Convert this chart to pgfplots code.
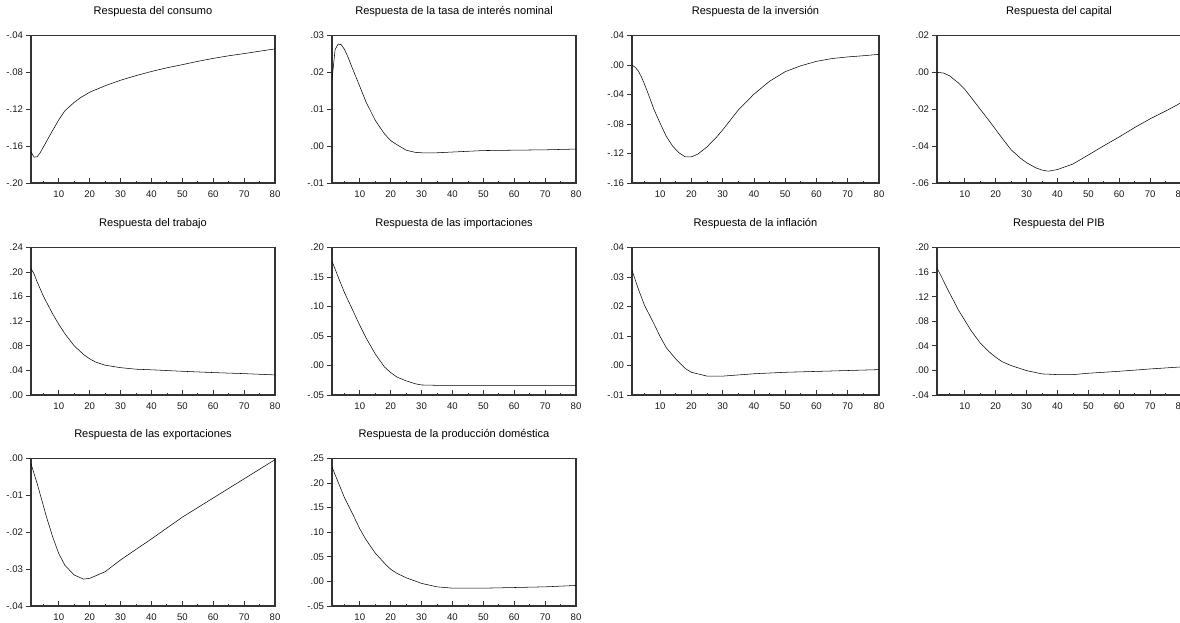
\documentclass[border=0pt]{standalone}
\usepackage{fontspec}
\setmainfont{Liberation Sans}
\usepackage{pgfplots}
\pgfplotsset{compat=1.18}

\pgfplotsset{
  irf/.style={
    scale only axis,
    width=183pt, height=110.6pt,
    xmin=1, xmax=80,
    xtick={10,20,30,40,50,60,70,80},
    xticklabels={10,20,30,40,50,60,70,80},
    minor xtick={5,15,25,35,45,55,65,75},
    xtick align=inside, ytick align=outside,
    xtick pos=lower, ytick pos=left,
    scaled y ticks=false,
    major tick length=3.5pt, minor tick length=1.6pt,
    tick style={black!80, line width=0.6pt},
    axis line style={black!80, line width=0.9pt},
    tick label style={font=\fontsize{7.2}{8}\selectfont, text=black!90},
    xticklabel style={yshift=-2.2pt},
    yticklabel style={xshift=1pt},
    title style={font=\fontsize{8.3}{10}\selectfont, at={(0.5,1)}, anchor=base, yshift=10pt},
    no markers,
    cycle list={{black, line width=0.6pt, smooth, tension=0.45}},
  },
}

\begin{document}
\begin{tikzpicture}
\path[use as bounding box, clip] (0,0) rectangle (885pt,466.5pt);

% ---- fila 1 ----
\begin{axis}[irf, at={(23.25pt,329.25pt)}, title={Respuesta del consumo},
  ymin=-0.20, ymax=-0.04, ytick={-0.20,-0.16,-0.12,-0.08,-0.04},
  yticklabels={-.20,-.16,-.12,-.08,-.04}]
\addplot coordinates {(1,-0.166)(2,-0.172)(3,-0.1715)(4,-0.167)(5,-0.161)(6,-0.155)(8,-0.143)(10,-0.1315)(12,-0.1215)(15,-0.1125)(17,-0.1075)(20,-0.1015)(25,-0.0945)(30,-0.0885)(35,-0.0835)(40,-0.079)(45,-0.075)(50,-0.0716)(55,-0.068)(60,-0.0648)(65,-0.062)(70,-0.0596)(75,-0.057)(80,-0.0545)};
\end{axis}

\begin{axis}[irf, at={(249pt,329.25pt)}, title={Respuesta de la tasa de interés nominal},
  ymin=-0.01, ymax=0.03, ytick={-0.01,0,0.01,0.02,0.03},
  yticklabels={-.01,.00,.01,.02,.03}]
\addplot coordinates {(1,0.018)(2,0.0262)(3,0.0277)(4,0.0275)(5,0.0263)(6,0.0245)(8,0.0203)(10,0.0162)(12,0.0120)(15,0.0070)(18,0.0033)(20,0.0015)(22,0.0004)(25,-0.0011)(28,-0.0017)(30,-0.0018)(35,-0.0018)(40,-0.0016)(50,-0.0012)(60,-0.0011)(70,-0.0010)(80,-0.0008)};
\end{axis}

\begin{axis}[irf, width=185.25pt, at={(474pt,329.25pt)}, title={Respuesta de la inversión},
  ymin=-0.16, ymax=0.04, ytick={-0.16,-0.12,-0.08,-0.04,0,0.04},
  yticklabels={-.16,-.12,-.08,-.04,.00,.04}]
\addplot coordinates {(1,0.000)(2,-0.003)(3,-0.008)(4,-0.016)(5,-0.026)(6,-0.037)(8,-0.060)(10,-0.079)(12,-0.097)(14,-0.110)(16,-0.119)(18,-0.1245)(20,-0.1245)(22,-0.121)(25,-0.111)(28,-0.098)(30,-0.088)(35,-0.061)(40,-0.0395)(45,-0.022)(50,-0.009)(55,-0.001)(60,0.0050)(65,0.0088)(70,0.011)(75,0.0126)(80,0.0145)};
\end{axis}

\begin{axis}[irf, at={(702.75pt,329.25pt)}, title={Respuesta del capital},
  ymin=-0.06, ymax=0.02, ytick={-0.06,-0.04,-0.02,0,0.02},
  yticklabels={-.06,-.04,-.02,.00,.02}]
\addplot coordinates {(1,0.000)(3,-0.0003)(5,-0.0018)(8,-0.0058)(10,-0.0092)(12,-0.0135)(15,-0.020)(18,-0.0265)(20,-0.031)(22,-0.0355)(25,-0.042)(28,-0.0465)(30,-0.049)(33,-0.0518)(35,-0.053)(37,-0.0536)(40,-0.0527)(45,-0.0497)(50,-0.0448)(55,-0.0398)(60,-0.035)(65,-0.0299)(70,-0.0252)(75,-0.021)(80,-0.0165)};
\end{axis}

% ---- fila 2 ----
\begin{axis}[irf, at={(23.25pt,170.25pt)}, title={Respuesta del trabajo},
  ymin=0, ymax=0.24, ytick={0,0.04,0.08,0.12,0.16,0.20,0.24},
  yticklabels={.00,.04,.08,.12,.16,.20,.24}]
\addplot coordinates {(1,0.2057)(2,0.197)(3,0.184)(5,0.161)(8,0.132)(10,0.115)(12,0.0995)(15,0.080)(18,0.066)(20,0.0588)(22,0.0535)(25,0.0485)(30,0.0445)(35,0.042)(40,0.041)(50,0.0386)(60,0.0365)(70,0.0348)(80,0.0327)};
\end{axis}

\begin{axis}[irf, at={(249pt,170.25pt)}, title={Respuesta de las importaciones},
  ymin=-0.05, ymax=0.20, ytick={-0.05,0,0.05,0.10,0.15,0.20},
  yticklabels={-.05,.00,.05,.10,.15,.20}]
\addplot coordinates {(1,0.177)(3,0.150)(5,0.124)(8,0.0905)(10,0.068)(12,0.047)(15,0.0195)(18,-0.0025)(20,-0.012)(22,-0.0195)(25,-0.026)(28,-0.031)(30,-0.033)(35,-0.0336)(40,-0.0336)(60,-0.0336)(80,-0.0336)};
\end{axis}

\begin{axis}[irf, width=185.25pt, at={(474pt,170.25pt)}, title={Respuesta de la inflación},
  ymin=-0.01, ymax=0.04, ytick={-0.01,0,0.01,0.02,0.03,0.04},
  yticklabels={-.01,.00,.01,.02,.03,.04}]
\addplot coordinates {(1,0.0323)(3,0.026)(5,0.0204)(8,0.0142)(10,0.0098)(12,0.006)(15,0.0022)(18,-0.0010)(20,-0.0023)(25,-0.0036)(30,-0.0036)(35,-0.0032)(40,-0.0028)(50,-0.0023)(60,-0.0020)(70,-0.0017)(80,-0.0014)};
\end{axis}

\begin{axis}[irf, at={(702.75pt,170.25pt)}, title={Respuesta del PIB},
  ymin=-0.04, ymax=0.20, ytick={-0.04,0,0.04,0.08,0.12,0.16,0.20},
  yticklabels={-.04,.00,.04,.08,.12,.16,.20}]
\addplot coordinates {(1,0.1668)(3,0.1467)(5,0.1265)(8,0.0977)(10,0.0814)(12,0.065)(15,0.0444)(18,0.0297)(20,0.0215)(22,0.0144)(25,0.0079)(30,-0.0003)(35,-0.0057)(40,-0.0068)(45,-0.0068)(50,-0.0046)(60,-0.0014)(70,0.0024)(80,0.0057)};
\end{axis}

% ---- fila 3 ----
\begin{axis}[irf, at={(23.25pt,12pt)}, title={Respuesta de las exportaciones},
  ymin=-0.04, ymax=0, ytick={-0.04,-0.03,-0.02,-0.01,0},
  yticklabels={-.04,-.03,-.02,-.01,.00}]
\addplot coordinates {(1,-0.0014)(3,-0.0068)(4,-0.0098)(6,-0.0158)(8,-0.0212)(10,-0.0258)(12,-0.029)(15,-0.0316)(18,-0.0327)(20,-0.0325)(25,-0.0307)(30,-0.0275)(40,-0.0218)(50,-0.0159)(60,-0.0107)(70,-0.0055)(80,-0.0003)};
\end{axis}

\begin{axis}[irf, at={(249pt,12pt)}, title={Respuesta de la producción doméstica},
  ymin=-0.05, ymax=0.25, ytick={-0.05,0,0.05,0.10,0.15,0.20,0.25},
  yticklabels={-.05,.00,.05,.10,.15,.20,.25}]
\addplot coordinates {(1,0.2327)(3,0.2018)(5,0.171)(8,0.133)(10,0.107)(12,0.085)(15,0.0577)(18,0.037)(20,0.0247)(22,0.0165)(25,0.0075)(30,-0.004)(35,-0.011)(40,-0.0137)(50,-0.0137)(60,-0.0124)(70,-0.011)(80,-0.0082)};
\end{axis}
\end{tikzpicture}
\end{document}
